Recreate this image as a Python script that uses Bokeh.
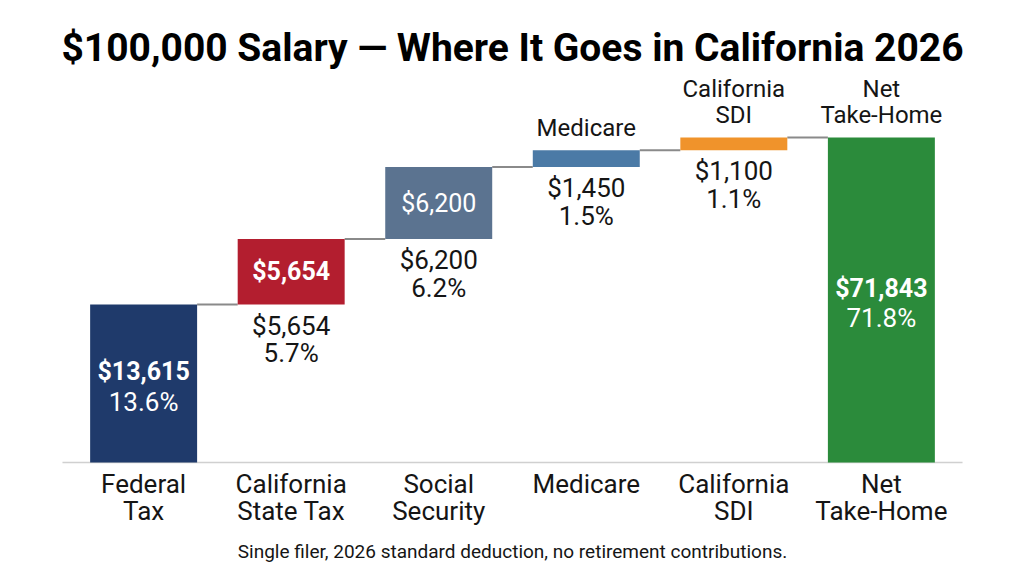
from bokeh.plotting import figure
from bokeh.models import Range1d, FactorRange, ColumnDataSource, Label
from bokeh.transform import dodge
from bokeh.core.properties import value
from bokeh.embed import file_html
from bokeh.resources import INLINE

# ---------------- data ----------------
categories = ["Federal Tax", "California State Tax", "Social Security",
              "Medicare", "California SDI", "Net Take-Home"]
category_labels = ["Federal\nTax", "California\nState Tax", "Social\nSecurity",
                   "Medicare", "California\nSDI", "Net\nTake-Home"]
amounts = [13615, 5654, 6200, 1450, 1100, 71843]
percents = [13.6, 5.7, 6.2, 1.5, 1.1, 71.8]
title_text = "$100,000 Salary \u2014 Where It Goes in California 2026"
note_text = "Single filer, 2026 standard deduction, no retirement contributions."

# ---------------- style ----------------
colors = ["#1f3a6b", "#b31e2f", "#5b7390", "#4b7aa6", "#f0932b", "#2b8b3b"]
FONT = value("Roboto")
W, H = 1024, 572
BASE_PX, TOP_PX = 462, 137
BAR_W = 0.725

deductions = amounts[:-1]
net = amounts[-1]
bottoms, tops = [], []
run = 0
for a in deductions:
    bottoms.append(run)
    run += a
    tops.append(run)
total_ded = run

k = (BASE_PX - TOP_PX) / total_ded
y_start, y_end = -(H - BASE_PX) / k, total_ded + TOP_PX / k
k2 = (BASE_PX - TOP_PX) / net
ny_start, ny_end = -(H - BASE_PX) / k2, net + TOP_PX / k2

p = figure(x_range=FactorRange(*categories, range_padding=0.47, range_padding_units="absolute"),
           y_range=Range1d(y_start, y_end), width=W, height=H,
           output_backend="svg", toolbar_location=None,
           x_axis_location=None, y_axis_location=None,
           min_border=0, min_border_left=0, min_border_right=0,
           min_border_top=0, min_border_bottom=0,
           outline_line_color=None, background_fill_color="white")
p.extra_y_ranges = {"net": Range1d(ny_start, ny_end)}
p.grid.visible = False

def money(a):
    return "${:,}".format(a)

def pct(v):
    return "{:.1f}%".format(v)

# baseline
base_src = ColumnDataSource(dict(a=[categories[0]], b=[categories[-1]], y=[0]))
p.segment(x0=dodge("a", -0.55, range=p.x_range), x1=dodge("b", 0.55, range=p.x_range),
          y0="y", y1="y", source=base_src, line_color="#d0d0d0", line_width=1.5)

# connectors
con_src = ColumnDataSource(dict(a=categories[:-1], b=categories[1:], y=tops))
p.segment(x0=dodge("a", BAR_W / 2, range=p.x_range), x1=dodge("b", -BAR_W / 2, range=p.x_range),
          y0="y", y1="y", source=con_src, line_color="#8a8a8a", line_width=2)

# deduction bars
ded_src = ColumnDataSource(dict(x=categories[:-1], top=tops, bottom=bottoms, c=colors[:-1]))
p.vbar(x="x", top="top", bottom="bottom", width=BAR_W, fill_color="c", line_color=None, source=ded_src)
# net bar on its own scale
net_src = ColumnDataSource(dict(x=[categories[-1]], top=[net], bottom=[0], c=[colors[-1]]))
p.vbar(x="x", top="top", bottom="bottom", width=BAR_W, fill_color="c", line_color=None,
       source=net_src, y_range_name="net")

# category labels
p.text(x=categories, y=[0] * len(categories), text=category_labels, text_align="center",
       text_baseline="top", y_offset=6, text_font=FONT, text_font_size="26px",
       text_line_height=0.92, text_color="#151515")

# inside labels (value + pct): Federal, Net
fed_mid = (bottoms[0] + tops[0]) / 2
p.text(x=[categories[0]], y=[fed_mid], text=[money(amounts[0])], text_align="center",
       text_baseline="middle", y_offset=-12, text_font=FONT, text_font_size="25px",
       text_font_style="bold", text_color="white")
p.text(x=[categories[0]], y=[fed_mid], text=[pct(percents[0])], text_align="center",
       text_baseline="middle", y_offset=18, text_font=FONT, text_font_size="26px",
       text_color="white")
p.text(x=[categories[-1]], y=[net / 2], text=[money(net)], text_align="center",
       text_baseline="middle", y_offset=-12, text_font=FONT, text_font_size="25px",
       text_font_style="bold", text_color="white", y_range_name="net")
p.text(x=[categories[-1]], y=[net / 2], text=[pct(percents[-1])], text_align="center",
       text_baseline="middle", y_offset=18, text_font=FONT, text_font_size="26px",
       text_color="white", y_range_name="net")

# inside value only: State tax (bold), Social Security (regular)
in_idx = [1, 2]
in_src = ColumnDataSource(dict(x=[categories[i] for i in in_idx],
                               y=[(bottoms[i] + tops[i]) / 2 for i in in_idx],
                               t=[money(amounts[i]) for i in in_idx],
                               s=["bold", "normal"]))
p.text(x="x", y="y", text="t", text_font_style="s", source=in_src, text_align="center",
       text_baseline="middle", text_font=FONT, text_font_size="25px", text_color="white")

# below labels
below_idx = [1, 2, 3, 4]
below_src = ColumnDataSource(dict(x=[categories[i] for i in below_idx],
                                  y=[bottoms[i] for i in below_idx],
                                  t=[money(amounts[i]) + "\n" + pct(percents[i]) for i in below_idx]))
p.text(x="x", y="y", text="t", source=below_src, text_align="center", text_baseline="top",
       y_offset=6, text_font=FONT, text_font_size="26px", text_line_height=0.93,
       text_color="#151515")

# above labels
above_idx = [3, 4]
above_src = ColumnDataSource(dict(x=[categories[i] for i in above_idx] + [categories[-1]],
                                  y=[tops[i] for i in above_idx] + [total_ded],
                                  t=[category_labels[i] for i in above_idx] + [category_labels[-1]]))
p.text(x="x", y="y", text="t", source=above_src, text_align="center", text_baseline="bottom",
       y_offset=-8, text_font=FONT, text_font_size="24px", text_line_height=0.95,
       text_color="#151515")

# title & note
p.add_layout(Label(x=W / 2, y=H - 47, x_units="screen", y_units="screen", text=title_text,
                   text_align="center", text_baseline="middle", text_font="Roboto",
                   text_font_size="39px", text_font_style="bold", text_color="#000000"))
p.add_layout(Label(x=W / 2, y=H - 551, x_units="screen", y_units="screen", text=note_text,
                   text_align="center", text_baseline="middle", text_font="Roboto",
                   text_font_size="19px", text_color="#151515"))

open("out.html", "w").write(file_html(p, INLINE))
